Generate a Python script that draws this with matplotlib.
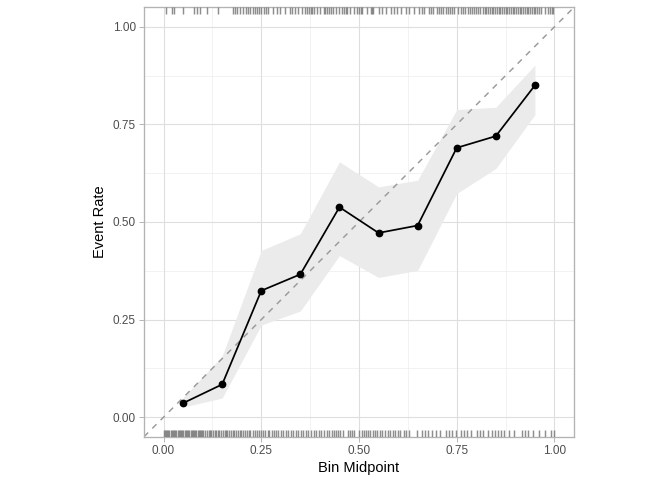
import matplotlib
matplotlib.use("Agg")
import matplotlib.pyplot as plt
import matplotlib.transforms as mtransforms

plt.rcParams['font.family'] = ['Liberation Sans', 'DejaVu Sans']

# Calibration data
bin_mid = [0.05, 0.15, 0.25, 0.35, 0.45, 0.55, 0.65, 0.75, 0.85, 0.95]
event_rate = [0.036, 0.084, 0.324, 0.366, 0.538, 0.472, 0.491, 0.690, 0.720, 0.850]
ci_lower = [0.026, 0.049, 0.236, 0.272, 0.414, 0.358, 0.376, 0.573, 0.637, 0.775]
ci_upper = [0.050, 0.157, 0.427, 0.470, 0.654, 0.590, 0.607, 0.788, 0.794, 0.902]

# Rug: predicted probabilities for events (top) and non-events (bottom)
rug_event = [0.005, 0.022, 0.028, 0.05, 0.078, 0.085, 0.093, 0.112, 0.14, 0.178, 0.183, 0.188,
             0.196, 0.203, 0.21, 0.215, 0.222, 0.228, 0.233, 0.238, 0.245, 0.25, 0.256, 0.262,
             0.268, 0.281, 0.29, 0.298, 0.311, 0.324, 0.328, 0.337, 0.345, 0.354, 0.362, 0.366,
             0.371, 0.376, 0.38, 0.384, 0.392, 0.401, 0.41, 0.414, 0.419, 0.424, 0.429, 0.434,
             0.44, 0.448, 0.457, 0.462, 0.466, 0.47, 0.478, 0.486, 0.495, 0.5, 0.504, 0.508,
             0.521, 0.53, 0.534, 0.537, 0.55, 0.56, 0.568, 0.581, 0.589, 0.598, 0.607, 0.62,
             0.627, 0.64, 0.653, 0.662, 0.665, 0.68, 0.685, 0.69, 0.699, 0.705, 0.71, 0.716,
             0.722, 0.728, 0.733, 0.738, 0.743, 0.752, 0.761, 0.766, 0.772, 0.778, 0.784, 0.79,
             0.795, 0.8, 0.805, 0.81, 0.817, 0.822, 0.826, 0.83, 0.834, 0.839, 0.843, 0.848,
             0.852, 0.857, 0.861, 0.866, 0.87, 0.875, 0.879, 0.884, 0.888, 0.893, 0.897, 0.902,
             0.906, 0.911, 0.915, 0.92, 0.924, 0.929, 0.933, 0.938, 0.942, 0.947, 0.951, 0.956,
             0.96, 0.965, 0.975, 0.984, 0.989, 0.993, 0.997]
rug_nonevent = [0.0, 0.003, 0.006, 0.009, 0.012, 0.015, 0.018, 0.021, 0.024, 0.027, 0.03, 0.033,
                0.036, 0.039, 0.042, 0.045, 0.048, 0.051, 0.054, 0.057, 0.06, 0.063, 0.066, 0.069,
                0.072, 0.075, 0.078, 0.081, 0.084, 0.087, 0.09, 0.093, 0.096, 0.099, 0.102, 0.106,
                0.111, 0.115, 0.118, 0.122, 0.127, 0.131, 0.134, 0.139, 0.143, 0.147, 0.151, 0.156,
                0.16, 0.163, 0.168, 0.172, 0.177, 0.181, 0.186, 0.19, 0.195, 0.199, 0.204, 0.209,
                0.213, 0.218, 0.222, 0.228, 0.233, 0.238, 0.243, 0.249, 0.254, 0.259, 0.266, 0.271,
                0.277, 0.283, 0.288, 0.294, 0.301, 0.306, 0.313, 0.319, 0.325, 0.332, 0.338, 0.344,
                0.351, 0.357, 0.364, 0.37, 0.377, 0.385, 0.391, 0.398, 0.404, 0.411, 0.418, 0.424,
                0.43, 0.436, 0.441, 0.447, 0.452, 0.458, 0.472, 0.476, 0.481, 0.487, 0.501, 0.507,
                0.512, 0.518, 0.523, 0.529, 0.536, 0.541, 0.547, 0.553, 0.56, 0.566, 0.573, 0.579,
                0.586, 0.593, 0.599, 0.606, 0.614, 0.621, 0.628, 0.649, 0.662, 0.669, 0.677, 0.688,
                0.697, 0.708, 0.722, 0.731, 0.738, 0.747, 0.761, 0.768, 0.776, 0.787, 0.801, 0.809,
                0.818, 0.829, 0.841, 0.849, 0.856, 0.864, 0.871, 0.883, 0.896, 0.916, 0.924, 0.933,
                0.945, 0.961, 0.976, 0.99, 0.998]

ticks = [0.0, 0.25, 0.5, 0.75, 1.0]
tick_labels = ["0.00", "0.25", "0.50", "0.75", "1.00"]
minor_ticks = [0.125, 0.375, 0.625, 0.875]

fig = plt.figure(figsize=(7, 5), dpi=96)
ax = fig.add_axes([144 / 672, 1 - 436.7 / 480, 430 / 672, 429.4 / 480])

lims = (-0.05, 1.05)
ax.set_xlim(lims)
ax.set_ylim(lims)

# grid
for t in minor_ticks:
    ax.axvline(t, color='#ececec', lw=0.5, zorder=0)
    ax.axhline(t, color='#ececec', lw=0.5, zorder=0)
for t in ticks:
    ax.axvline(t, color='#dedede', lw=0.8, zorder=0)
    ax.axhline(t, color='#dedede', lw=0.8, zorder=0)

# ribbon
ax.fill_between(bin_mid, ci_lower, ci_upper, color='#ebebeb', lw=0, zorder=1)

# diagonal reference
ax.plot(lims, lims, color='#9a9a9a', lw=1.1, dashes=(4, 4), zorder=2)

# calibration line and points
ax.plot(bin_mid, event_rate, color='black', lw=1.3, zorder=3)
ax.plot(bin_mid, event_rate, 'o', color='black', ms=4.8, zorder=4)

# rugs
trans = mtransforms.blended_transform_factory(ax.transData, ax.transAxes)
rug_len = 0.015
ax.vlines(rug_event, 1 - rug_len, 1, transform=trans, color='#7a7a7a', alpha=0.85, lw=1.1, zorder=3)
ax.vlines(rug_nonevent, 0, rug_len, transform=trans, color='#7a7a7a', alpha=0.85, lw=1.1, zorder=3)

ax.set_xticks(ticks)
ax.set_xticklabels(tick_labels)
ax.set_yticks(ticks)
ax.set_yticklabels(tick_labels)
ax.tick_params(axis='both', colors='#b3b3b3', labelcolor='#4d4d4d', labelsize=8.8,
               length=3.7, width=0.7, pad=2.5)

for s in ax.spines.values():
    s.set_color('#b3b3b3')
    s.set_linewidth(1.0)

ax.set_xlabel("Bin Midpoint", fontsize=11, color='black', labelpad=3)
ax.set_ylabel("Event Rate", fontsize=11, color='black', labelpad=4)

fig.savefig("out.png", dpi=96)
